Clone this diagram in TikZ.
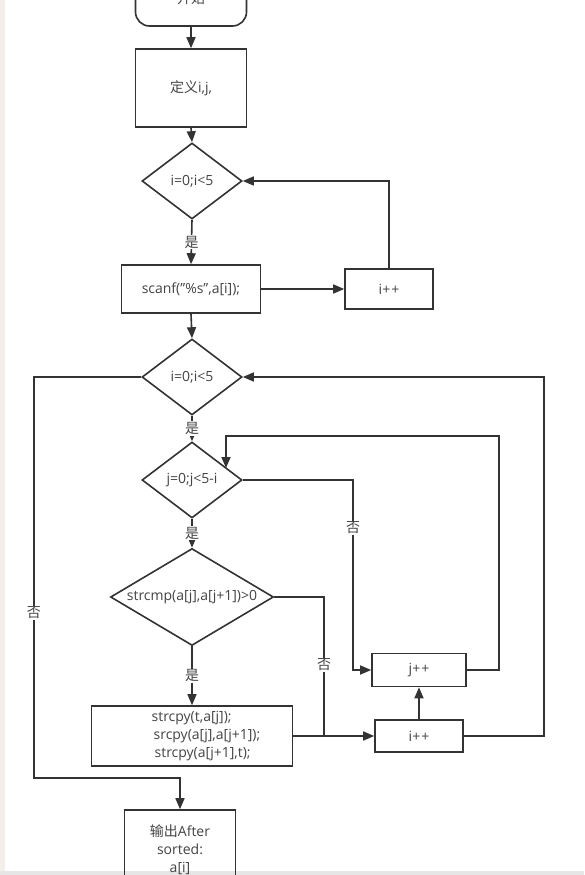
\documentclass[tikz,border=0pt]{standalone}
\usepackage{fontspec}
\setmainfont{Open Sans}
\newfontfamily\cjk{Noto Sans CJK SC}
\usetikzlibrary{shapes.geometric,arrows.meta}
\definecolor{lineclr}{HTML}{333333}
\definecolor{txtclr}{HTML}{444444}
\definecolor{edgeclr}{HTML}{F4EEE9}
\definecolor{footclr}{HTML}{E6E6E6}

\begin{document}
\begin{tikzpicture}[x=1pt,y=-1pt,
  every node/.style={font=\fontsize{14}{18}\selectfont, text=txtclr},
  box/.style={draw=lineclr, line width=1.6pt, rectangle, inner sep=0pt},
  term/.style={box, rounded corners=14pt},
  cond/.style={draw=lineclr, line width=1.6pt, diamond, inner sep=0pt},
  lbl/.style={fill=white, inner sep=1pt},
  ln/.style={draw=lineclr, line width=1.6pt},
  arr/.style={ln, -{Triangle[length=11pt,width=9pt]}}]
  \useasboundingbox (0,0) rectangle (584,875);
  \clip (0,0) rectangle (584,875);
  \fill[white] (0,0) rectangle (584,875);
  \fill[edgeclr] (0,0) rectangle (5,875);
  \fill[footclr] (0,871) rectangle (584,875);

  % nodes
  \node[term, minimum width=111pt, minimum height=56pt] at (191,-2) (start) {\cjk 开始};
  \node[box, minimum width=111pt, minimum height=78pt] at (191,88) (def) {{\cjk 定义}i,j,};
  \node[cond, minimum width=100pt, minimum height=76pt] at (192,181) (cond1) {i=0;i<5};
  \node[box, minimum width=139pt, minimum height=48pt] at (191,289) (scan) {scanf("\%s",a[i]);};
  \node[box, minimum width=88pt, minimum height=40pt] at (389,289) (inc1) {i+\kern1pt+};
  \node[cond, minimum width=100pt, minimum height=76pt] at (192,377) (cond2) {i=0;i<5};
  \node[cond, minimum width=100pt, minimum height=76pt] at (192,480) (cond3) {j=0;j<5-i};
  \node[cond, minimum width=163pt, minimum height=97pt] at (192,597) (cond4) {\makebox[0pt]{strcmp(a[j],a[j+1])>0}};
  \node[box, minimum width=201pt, minimum height=60pt, align=left] at (192,736) (swap)
    {\hspace*{28pt}strcpy(t,a[j]);\\\hspace*{30pt}srcpy(a[j],a[j+1]);\\\hspace*{31pt}strcpy(a[j+1],t);};
  \node[box, minimum width=94pt, minimum height=33pt] at (419,670) (incj) {j+\kern1pt+};
  \node[box, minimum width=88pt, minimum height=32pt] at (419,736) (inci) {i+\kern1pt+};
  \node[box, minimum width=111pt, minimum height=80pt, align=center] at (180,850) (out)
    {{\cjk 输出}After\\sorted:\\a[i]};

  % bends
  \coordinate (outL) at (34,778);
  \coordinate (jno) at (353,670);
  \coordinate (cno) at (324,736);
  \coordinate (jtop) at (499,436);
  \coordinate (jin) at (226,468);
  \coordinate (itop) at (544,377);

  % connectors
  \draw[arr] (start.south) -- (def.north);
  \draw[arr] (def.south) -- (cond1.north);
  \draw[arr] (cond1.south) -- node[lbl] {\cjk 是} (scan.north);
  \draw[arr] (scan.east) -- (inc1.west);
  \draw[arr] (inc1.north) |- (cond1.east);
  \draw[arr] (scan.south) -- (cond2.north);
  \draw[arr] (cond2.west) -| (outL) -| (out.north);
  \node[lbl] at (34,613) (no1) {\cjk 否};
  \draw[arr] (cond2.south) -- node[lbl] {\cjk 是} (cond3.north);
  \draw[arr] (cond3.south) -- node[lbl] {\cjk 是} (cond4.north);
  \draw[arr] (cond4.south) -- node[lbl] {\cjk 是} (swap.north);
  \draw[arr] (cond3.east) -| (jno) -- (incj.west);
  \node[lbl] at (353,528) (no2) {\cjk 否};
  \draw[ln] (cond4.east) -| (cno);
  \node[lbl] at (324,665) (no3) {\cjk 否};
  \draw[arr] (swap.east) -- (inci.west);
  \draw[arr] (inci.north) -- (incj.south);
  \draw[arr] (incj.east) -| (jtop) -| (jin);
  \draw[arr] (inci.east) -| (itop) -- (cond2.east);
\end{tikzpicture}
\end{document}
